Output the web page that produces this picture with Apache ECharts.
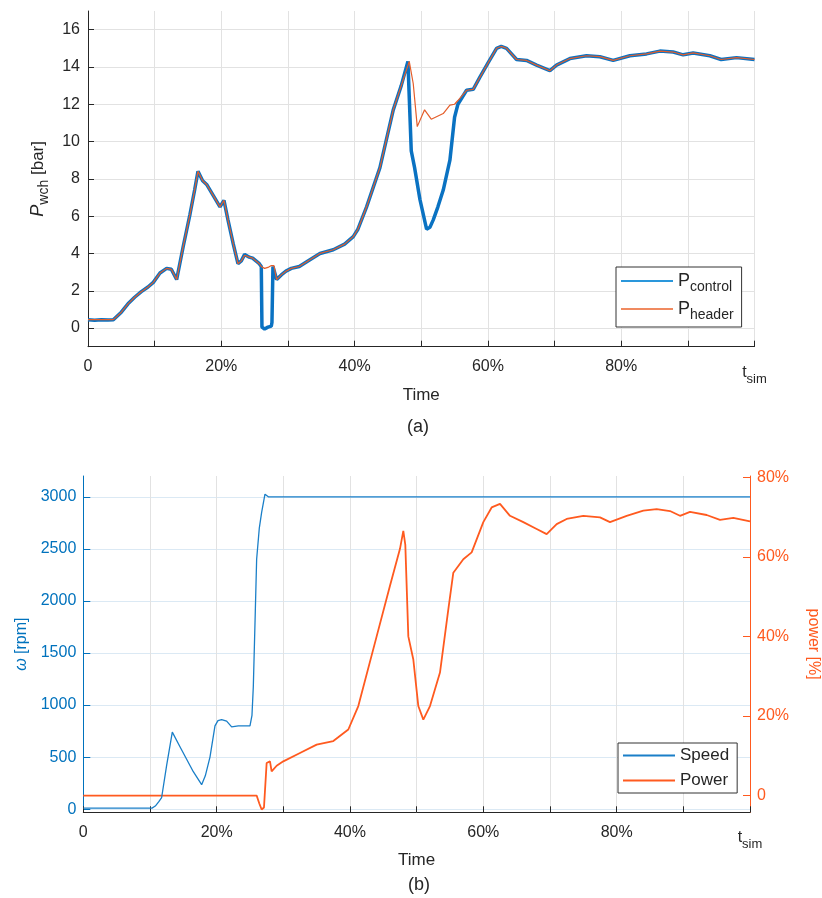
<!DOCTYPE html>
<html><head><meta charset="utf-8">
<script src="https://cdn.jsdelivr.net/npm/echarts@6/dist/echarts.min.js"></script>
<style>html,body{margin:0;padding:0;background:#fff}#c{width:822px;height:898px}</style>
</head><body><div id="c"></div>
<script>
// ---- data (x in % of t_sim) ----
const tControl = [0,1,2,3,3.8,5,6,7,8,9,9.8,10.8,11.8,12.5,13.3,14.3,15.3,16,16.5,17.2,17.8,18.8,19.8,20.4,21,21.8,22.5,23,23.5,24.2,24.7,25.7,26.0,26.1,26.5,27,27.5,27.6,27.75,28.3,29,29.7,30.5,31.7,33,34.8,36.8,38.5,39.8,40.5,41.8,43.8,45.8,47,48,48.5,49,49.8,50.8,51.3,51.8,52.5,53.3,54.3,55,55.5,56.8,57.8,58.8,60,61.3,62,62.8,64.3,65.8,67.3,69.3,70.3,72.3,74.8,76.8,78.8,81.3,83.8,85.8,87.8,89.3,90.8,93.3,95,97.3,100];
const pControl = [0.45,0.42,0.45,0.43,0.45,0.85,1.3,1.65,1.95,2.2,2.45,2.95,3.2,3.15,2.6,4.4,6.1,7.4,8.4,7.9,7.7,7.1,6.5,6.85,5.8,4.5,3.45,3.6,3.95,3.8,3.75,3.45,3.3,0.05,-0.05,0.05,0.1,0.3,3.3,2.6,2.85,3.05,3.2,3.3,3.6,4.0,4.2,4.5,4.9,5.3,6.5,8.6,11.7,13.0,14.3,9.5,8.6,6.9,5.3,5.4,5.8,6.5,7.4,9.0,11.3,12.0,12.75,12.8,13.45,14.2,15.0,15.1,15.0,14.4,14.35,14.1,13.8,14.1,14.45,14.6,14.55,14.35,14.6,14.7,14.85,14.8,14.65,14.75,14.6,14.4,14.5,14.4];
const tHeader = [0,1,2,3,3.8,5,6,7,8,9,9.8,10.8,11.8,12.5,13.3,14.3,15.3,16,16.5,17.2,17.8,18.8,19.8,20.4,21,21.8,22.5,23,23.5,24.2,24.7,25.7,26.0,26.5,27,27.5,27.9,28.3,29,29.7,30.5,31.7,33,34.8,36.8,38.5,39.8,40.5,41.8,43.8,45.8,47,48.2,48.8,49.4,50.5,51.5,53.3,54.3,55,55.5,56.8,57.8,58.8,60,61.3,62,62.8,64.3,65.8,67.3,69.3,70.3,72.3,74.8,76.8,78.8,81.3,83.8,85.8,87.8,89.3,90.8,93.3,95,97.3,100];
const pHeader = [0.45,0.45,0.45,0.45,0.45,0.85,1.3,1.65,1.95,2.2,2.45,2.95,3.2,3.15,2.6,4.4,6.1,7.4,8.4,7.9,7.7,7.1,6.5,6.85,5.8,4.5,3.45,3.6,3.9,3.8,3.75,3.45,3.3,3.2,3.25,3.35,3.35,2.6,2.85,3.05,3.2,3.3,3.6,4.0,4.2,4.5,4.9,5.3,6.5,8.6,11.7,13.0,14.3,13.1,10.8,11.7,11.2,11.5,11.95,12.0,12.2,12.75,12.8,13.45,14.2,15.0,15.1,15.0,14.4,14.35,14.1,13.8,14.1,14.45,14.6,14.55,14.35,14.6,14.7,14.85,14.8,14.65,14.75,14.6,14.4,14.5,14.4];

const tSpeed = [0,10.3,10.8,11.3,11.75,12.5,13.35,14.5,15.5,16.5,17.75,18.3,19,19.75,20.2,20.75,21.5,22.25,23.25,25,25.3,25.5,25.8,26,26.4,26.75,27.25,27.75,30,40,50,60,70,80,90,100];
const speedRpm = [10,10,30,70,112,420,740,600,480,360,235,320,500,800,850,860,845,790,800,800,900,1175,1900,2400,2700,2850,3025,3000,3000,3000,3000,3000,3000,3000,3000,3000];
const tPower = [0,26,26.4,26.75,27.1,27.3,27.5,28,28.25,29,30,32.5,35,37.5,39.75,41.25,44,46,47.5,48,48.3,48.75,49.5,50.25,51,52,53.5,54.75,55.5,57,58.25,60,61.25,62.5,64,66,68,69.5,71,72.5,75,77.5,79,81.5,84,86,88,89.5,91,93.5,95.5,97.5,100];
const powerPct = [0,0,-2,-3.5,-3,-2.7,8.2,8.6,6.1,7.5,8.6,10.7,12.8,13.7,16.6,22.5,40,52.7,62,66.5,63,40,34.2,22.5,19.1,22.5,30.9,46.8,56,59.4,61.1,68.7,72.4,73.3,70.3,68.7,67,65.7,68.2,69.5,70.3,69.9,68.7,70.3,71.6,72,71.5,70.3,71.3,70.5,69.3,69.8,68.9];

// ---- ticks ----
const xTickValues = [0,10,20,30,40,50,60,70,80,90,100];
const xLabelValues = [0,20,40,60,80,100];
const xLabelTexts = ['0','20%','40%','60%','80%','{t|t}{s|sim}'];
const pTicks = [0,2,4,6,8,10,12,14,16];
const rpmTicks = [0,500,1000,1500,2000,2500,3000];
const powerTicks = [0,20,40,60,80];

const FONT = 'Liberation Sans, Arial, Helvetica, sans-serif';
const TXT = '#262626';
const BLUE = '#0072BD';
const ORANGE = '#FF5A1F';
const pairs = (xs, ys) => xs.map((x, i) => [x, ys[i]]);

function xAxisFor(gi){
  return {
    gridIndex: gi, type: 'value', min: 0, max: 100,
    axisLine: {show: true, onZero: false, lineStyle: {color: TXT, width: 1}},
    axisTick: {show: true, inside: true, length: 6, customValues: xTickValues, lineStyle: {color: TXT}},
    axisLabel: {customValues: xLabelValues, margin: 12, fontSize: 16, fontFamily: FONT, color: TXT,
      formatter: v => xLabelTexts[xLabelValues.indexOf(v)],
      rich: {t: {fontSize: 16, fontFamily: FONT, color: TXT}, s: {fontSize: 13, fontFamily: FONT, color: TXT, padding: [14,0,0,0]}}},
    splitLine: {show: true, lineStyle: {color: '#e2e2e2', width: 1}},
    name: 'Time', nameLocation: 'middle', nameGap: 29,
    nameTextStyle: {fontSize: 17, fontFamily: FONT, color: TXT}
  };
}

const chart = echarts.init(document.getElementById('c'), null, {renderer: 'canvas'});
chart.setOption({
  backgroundColor: '#fff',
  animation: false,
  textStyle: {fontFamily: FONT},
  graphic: [
    {type: 'text', left: 407, top: 418, style: {text: '(a)', fontSize: 18, fontFamily: FONT, fill: TXT}},
    {type: 'text', left: 408, top: 876, style: {text: '(b)', fontSize: 18, fontFamily: FONT, fill: TXT}}
  ],
  grid: [
    {left: 88, top: 11, width: 666.5, height: 335.7, outerBoundsMode: 'none', containLabel: false},
    {left: 83.3, top: 476, width: 666.7, height: 336.3, outerBoundsMode: 'none', containLabel: false}
  ],
  xAxis: [xAxisFor(0), xAxisFor(1)],
  yAxis: [
    {gridIndex: 0, type: 'value', min: -1, max: 17,
     axisLine: {show: true, lineStyle: {color: TXT}},
     axisTick: {show: true, inside: true, length: 6, customValues: pTicks, lineStyle: {color: TXT}},
     axisLabel: {customValues: pTicks, margin: 8, fontSize: 16, fontFamily: FONT, color: TXT},
     splitLine: {show: true, lineStyle: {color: '#e2e2e2'}},
     name: '{i|P}{s|wch} [bar]', nameLocation: 'middle', nameGap: 35, nameRotate: 90,
     nameTextStyle: {fontSize: 17, fontFamily: FONT, color: TXT,
       rich: {i: {fontStyle: 'italic', fontSize: 18, fontFamily: FONT, color: TXT},
              s: {fontSize: 14, fontFamily: FONT, color: TXT, padding: [12,0,0,0]}}}},
    {gridIndex: 1, type: 'value', min: -30, max: 3200, position: 'left',
     axisLine: {show: true, lineStyle: {color: BLUE}},
     axisTick: {show: true, inside: true, length: 7, customValues: rpmTicks, lineStyle: {color: BLUE}},
     axisLabel: {customValues: rpmTicks, margin: 7, fontSize: 16, fontFamily: FONT, color: BLUE,
       formatter: v => String(v)},
     splitLine: {show: true, lineStyle: {color: '#dbe9f4'}},
     name: '{i|ω} [rpm]', nameLocation: 'middle', nameGap: 47, nameRotate: 90,
     nameTextStyle: {fontSize: 16, fontFamily: FONT, color: BLUE,
       rich: {i: {fontStyle: 'italic', fontSize: 16, fontFamily: FONT, color: BLUE}}}},
    {gridIndex: 1, type: 'value', min: -4.2, max: 80.3, position: 'right',
     axisLine: {show: true, lineStyle: {color: ORANGE}},
     axisTick: {show: true, inside: true, length: 7, customValues: powerTicks, lineStyle: {color: ORANGE}},
     axisLabel: {customValues: powerTicks, margin: 7, fontSize: 16, fontFamily: FONT, color: ORANGE,
       formatter: v => v === 0 ? '0' : v + '%'},
     splitLine: {show: false},
     name: 'power [%]', nameLocation: 'middle', nameGap: 55, nameRotate: -90,
     nameTextStyle: {fontSize: 16, fontFamily: FONT, color: ORANGE}}
  ],
  legend: [
    {left: 616, top: 267, orient: 'vertical', itemWidth: 52, itemHeight: 2, itemGap: 6, icon: 'rect',
     padding: [5, 8, 5, 5], borderColor: '#333', borderWidth: 1, backgroundColor: '#fff',
     data: [{name: 'P_control', itemStyle: {color: '#2a97db'}}, {name: 'P_header', itemStyle: {color: '#f08a60'}}],
     formatter: n => '{m|P}{s|' + n.split('_')[1] + '}',
     textStyle: {color: TXT, fontFamily: FONT,
       rich: {m: {fontSize: 18, fontFamily: FONT, color: TXT}, s: {fontSize: 14, fontFamily: FONT, color: TXT, padding: [12,0,0,0]}}}},
    {left: 618, top: 743, orient: 'vertical', itemWidth: 52, itemHeight: 2, itemGap: 8, icon: 'rect',
     padding: [4, 8, 4, 5], borderColor: '#333', borderWidth: 1, backgroundColor: '#fff',
     data: [{name: 'Speed', itemStyle: {color: '#1a7fc8'}}, {name: 'Power', itemStyle: {color: ORANGE}}],
     textStyle: {color: TXT, fontFamily: FONT, fontSize: 17}}
  ],
  series: [
    {name: 'P_control', type: 'line', xAxisIndex: 0, yAxisIndex: 0, symbol: 'none', z: 2,
     color: '#0a72c2', lineStyle: {width: 3.5, color: '#0a72c2'}, data: pairs(tControl, pControl)},
    {name: 'P_header', type: 'line', xAxisIndex: 0, yAxisIndex: 0, symbol: 'none', z: 3,
     color: '#e45d2a', lineStyle: {width: 1.2, color: '#e45d2a'}, data: pairs(tHeader, pHeader)},
    {name: 'Speed', type: 'line', xAxisIndex: 1, yAxisIndex: 1, symbol: 'none', z: 3,
     color: BLUE, lineStyle: {width: 1.3, color: '#1a7fc8'}, data: pairs(tSpeed, speedRpm)},
    {name: 'Power', type: 'line', xAxisIndex: 1, yAxisIndex: 2, symbol: 'none', z: 2,
     color: ORANGE, lineStyle: {width: 1.8, color: ORANGE}, data: pairs(tPower, powerPct)}
  ]
});
</script></body></html>
